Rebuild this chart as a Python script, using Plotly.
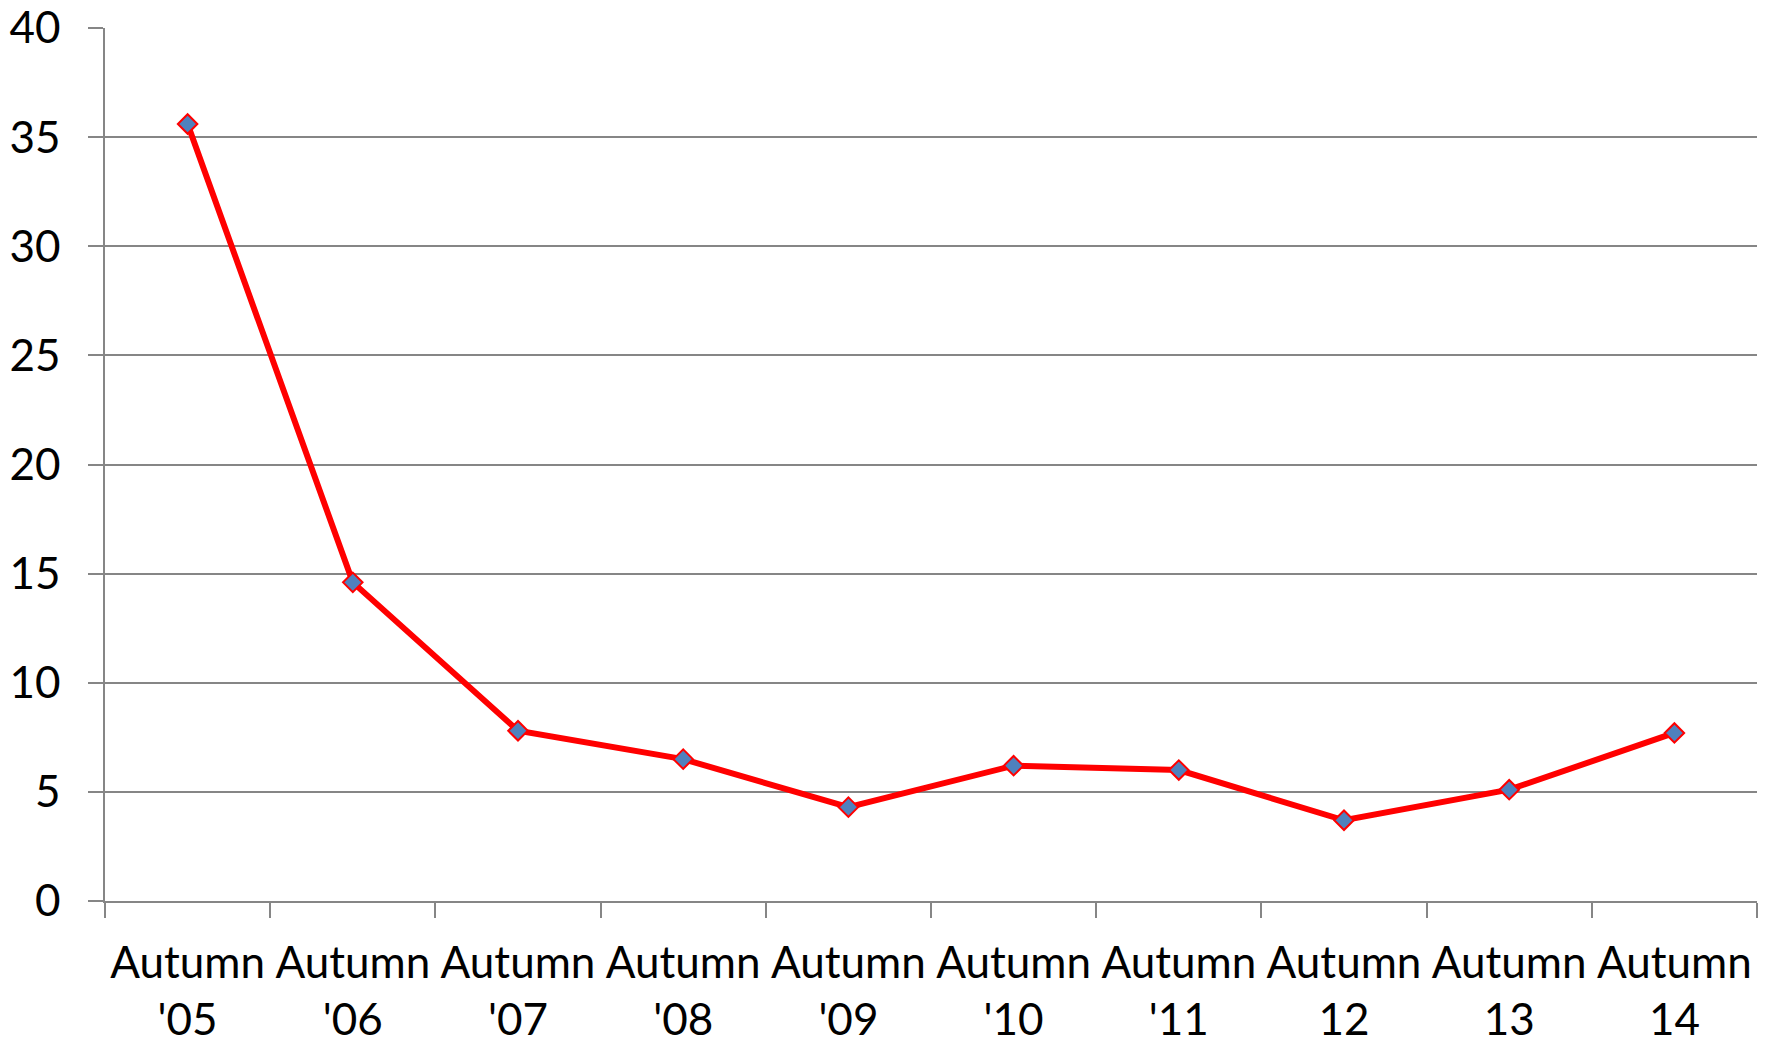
import plotly.graph_objects as go

# Survey rounds and the measured values per round
categories = ["Autumn<br>'05", "Autumn<br>'06", "Autumn<br>'07", "Autumn<br>'08",
              "Autumn<br>'09", "Autumn<br>'10", "Autumn<br>'11", "Autumn<br>12",
              "Autumn<br>13", "Autumn<br>14"]
values = [35.6, 14.6, 7.8, 6.5, 4.3, 6.2, 6.0, 3.7, 5.1, 7.7]
y_ticks = [0, 5, 10, 15, 20, 25, 30, 35, 40]

grid_gray = "#868686"

fig = go.Figure(
    go.Scatter(
        x=categories,
        y=values,
        mode="lines+markers",
        line=dict(color="#FF0000", width=6),
        marker=dict(symbol="diamond", size=15, color="#4F81BD",
                    line=dict(color="#FF0000", width=2)),
        showlegend=False,
        cliponaxis=False,
    )
)

fig.update_layout(
    width=1767,
    height=1042,
    margin=dict(l=105, r=10, t=28, b=141),
    paper_bgcolor="white",
    plot_bgcolor="white",
    font=dict(family="Lato, Carlito, sans-serif", size=44, color="black"),
)

fig.update_xaxes(
    type="category",
    range=[-0.5, len(categories) - 0.5],
    tickson="boundaries",
    ticks="outside",
    ticklen=15,
    tickwidth=1.5,
    tickcolor=grid_gray,
    showline=True,
    linecolor=grid_gray,
    linewidth=1.5,
    showgrid=False,
    automargin=False,
    ticklabelstandoff=22,
)

fig.update_yaxes(
    range=[0, 40],
    tickvals=y_ticks,
    ticks="outside",
    ticklen=15,
    tickwidth=1.5,
    tickcolor=grid_gray,
    showline=True,
    linecolor=grid_gray,
    linewidth=1.5,
    showgrid=True,
    gridcolor=grid_gray,
    gridwidth=1.5,
    zeroline=False,
    automargin=False,
    ticklabelstandoff=19,
)

fig.write_html("out.html")
